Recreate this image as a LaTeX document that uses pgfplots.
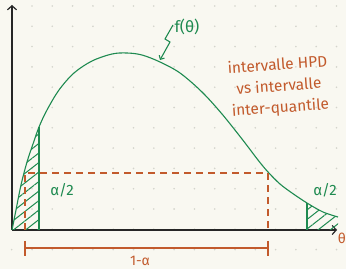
\documentclass[border=0pt]{standalone}
\usepackage{fontspec}
\setmainfont{Fira Sans}
\usepackage{pgfplots}
\pgfplotsset{compat=1.18}
\usetikzlibrary{patterns.meta,arrows.meta}
\definecolor{bg}{HTML}{F9F8F1}
\definecolor{grn}{HTML}{1E8A50}
\definecolor{org}{HTML}{C25A2C}
\definecolor{dotc}{HTML}{D4D4CC}
\begin{document}
\begin{tikzpicture}
\useasboundingbox (-12bp,-39bp) rectangle (334bp,230bp);
\fill[bg] (-12bp,-39bp) rectangle (334bp,230bp);
\foreach \i in {0,...,16}{\foreach \j in {-1,...,11}{\fill[dotc] (\i*20.3bp-0.3bp,0.7bp+\j*20.3bp) circle (0.9bp);}}
\begin{axis}[x=1bp,y=1bp,xmin=0,xmax=325,ymin=0,ymax=225,
  axis lines=left,
  axis line style={line width=1.2bp,black!85,-{Straight Barb[length=4bp,width=9bp]}},
  xtick=\empty,ytick=\empty,clip=false]
% hatched tails
\addplot[draw=none,pattern={Lines[angle=38,distance=7.5bp,line width=1bp]},pattern color=grn]
  coordinates {(0,0)(4,20)(9,45)(15,68)(21,86)(27,103)(27,0)} -- cycle;
\addplot[draw=none,pattern={Lines[angle=38,distance=7.5bp,line width=1bp]},pattern color=grn]
  coordinates {(295,0)(295,27)(303,22)(311,18)(318,15)(326,13)(326,0)} -- cycle;
% density curve
\addplot[grn,line width=1.1bp,smooth,tension=0.55] coordinates {
(0,0)(4,20)(9,45)(15,68)(21,86)(27,103)(35,120)(47,140)(62,157)(80,169)(100,176)(115,177)(130,175)(148,168)(168,157)(190,138)(210,116)(230,91)(246,70)(256,58)(268,46)(280,37)(295,27)(311,18)(326,13)};
\addplot[grn,line width=1.1bp] coordinates {(27,0)(27,103)};
\addplot[grn,line width=1.1bp] coordinates {(295,0)(295,27)};
% dashed quantile box
\addplot[org,line width=1.1bp,dash pattern=on 7bp off 5bp] coordinates {(13,0)(13,57)(256,57)(256,0)};
% bracket 1-alpha
\addplot[org,line width=1.1bp] coordinates {(13,-11)(13,-26)};
\addplot[org,line width=1.1bp] coordinates {(13,-18)(256,-18)};
\addplot[org,line width=1.1bp] coordinates {(256,-11)(256,-26)};
% annotations
\draw[grn,line width=1.1bp,-{Straight Barb[length=3bp,width=6bp]}] (axis cs:161,205) -- (axis cs:153,191) -- (axis cs:158,188) -- (axis cs:148,170);
\node[grn,font=\fontsize{16}{18}\selectfont] at (axis cs:175,203) {f(θ)};
\node[grn,font=\fontsize{15}{17}\selectfont] at (axis cs:50,40) {α/2};
\node[grn,font=\fontsize{15}{17}\selectfont] at (axis cs:313,40) {α/2};
\node[org,font=\fontsize{14}{16}\selectfont] at (axis cs:330,-8) {θ};
\node[org,font=\fontsize{14}{16}\selectfont] at (axis cs:128,-31) {1-α};
\node[org,rotate=4,align=center,font=\fontsize{15.5}{21.5}\selectfont] at (axis cs:267,143) {intervalle HPD\\vs intervalle\\inter-quantile};
\end{axis}
\end{tikzpicture}
\end{document}
